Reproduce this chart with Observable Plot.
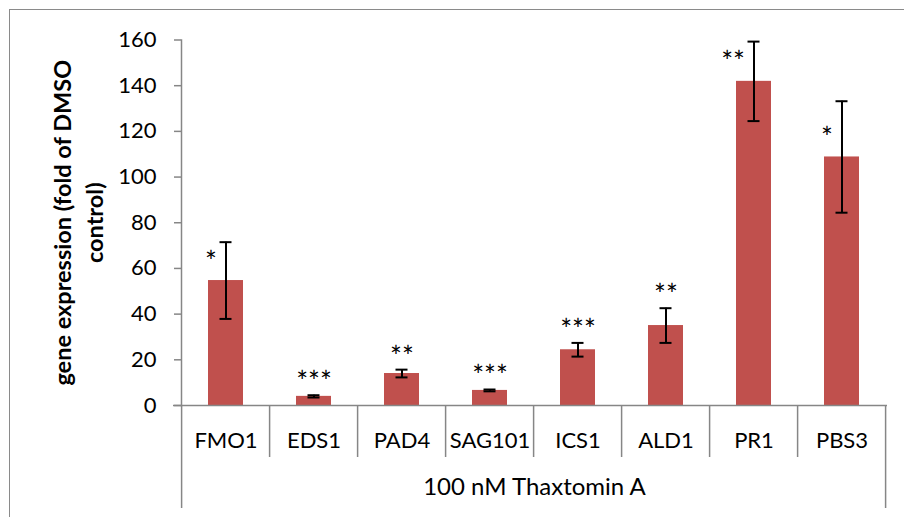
<!DOCTYPE html>
<html>
<head>
<meta charset="utf-8">
<script src="https://cdn.jsdelivr.net/npm/d3@7"></script>
<script src="https://cdn.jsdelivr.net/npm/@observablehq/plot@0.6"></script>
<style>
  html, body { margin: 0; padding: 0; background: #fff; }
  #wrap { position: relative; width: 904px; height: 517px; overflow: hidden; }
  #border { position: absolute; left: 9px; top: 9px; width: 1000px; height: 1000px;
            border-left: 1.5px solid #8a8a8a; border-top: 1.5px solid #8a8a8a; }
  #chart { position: absolute; left: 0; top: 0; }
</style>
</head>
<body>
<div id="wrap"><div id="border"></div><div id="chart"></div></div>
<script>
const genes = ["FMO1", "EDS1", "PAD4", "SAG101", "ICS1", "ALD1", "PR1", "PBS3"];
const means = [54.7, 4.0, 14.0, 6.6, 24.4, 35.0, 141.9, 108.8];
const errors = [16.8, 0.5, 1.7, 0.4, 3.0, 7.6, 17.4, 24.4];
const stars = ["*", "***", "**", "***", "***", "**", "**", "*"];
const yTicks = [0, 20, 40, 60, 80, 100, 120, 140, 160];
const groupLabel = "100 nM Thaxtomin A";
const yTitle = "gene expression (fold of DMSO\ncontrol)";

const data = genes.map((g, i) => ({gene: g, mean: means[i], err: errors[i], star: stars[i],
  lo: means[i] - errors[i], hi: means[i] + errors[i]}));

const W = 904, H = 517, mL = 181, mR = 17, mT = 39.5, mB = 112;
const axisColor = "#868686";
const font = "Lato, 'Open Sans', sans-serif";

// stars: above the error bar when it is short; beside it (left) when the bar is long
const ky = (H - mT - mB) / 160;
const small = data.filter(d => d.err * ky < 20);
const large = data.filter(d => d.err * ky >= 20);

const chart = Plot.plot({
  width: W, height: H,
  marginLeft: mL, marginRight: mR, marginTop: mT, marginBottom: mB,
  style: {fontFamily: font, fontSize: "22px", color: "black", background: "transparent"},
  x: {domain: genes, paddingInner: 0.6, paddingOuter: 0.3, label: null},
  y: {domain: [0, 160], label: null},
  marks: [
    Plot.barY(data, {x: "gene", y: "mean", fill: "#C0504D"}),
    Plot.ruleY([0], {stroke: axisColor, strokeWidth: 1.5, insetLeft: -8}),
    Plot.frame({anchor: "left", stroke: axisColor, strokeWidth: 1.5}),
    Plot.axisY({ticks: yTicks, tickSize: 7, tickPadding: 18, stroke: axisColor, fill: "black",
                fontSize: 22, label: null, strokeWidth: 1.5}),
    Plot.axisX({tickSize: 0, tickPadding: 27, fontSize: 22, label: null, fill: "black"}),
    Plot.ruleX(data, {x: "gene", y1: "lo", y2: "hi", stroke: "black", strokeWidth: 2}),
    Plot.tickY(data, {x: "gene", y: "lo", stroke: "black", strokeWidth: 2, insetLeft: 11.5, insetRight: 11.5}),
    Plot.tickY(data, {x: "gene", y: "hi", stroke: "black", strokeWidth: 2, insetLeft: 11.5, insetRight: 11.5}),
    Plot.text(small, {x: "gene", y: "hi", text: "star", dy: -12, fontSize: 28, fill: "black"}),
    Plot.text(large, {x: "gene", y: "mean", text: "star", dy: -18, dx: -9, textAnchor: "end", fontSize: 28, fill: "black"}),
    Plot.text([groupLabel], {frameAnchor: "bottom", dy: 89, fontSize: 24, fill: "black"}),
    Plot.text([yTitle], {frameAnchor: "left", rotate: -90, dx: -105, fontSize: 23.5, fontWeight: "bold",
                         textAnchor: "middle", lineHeight: 1.35, fill: "black"})
  ]
});
document.getElementById("chart").appendChild(chart);

// table-style category separators beneath the x axis, positioned from Plot's x scale
const xs = chart.scale("x");
const step = xs.step;
const y0 = chart.scale("y").apply(0);
const svg = d3.select(chart);
const g = svg.append("g").attr("stroke", axisColor).attr("stroke-width", 1.5);
genes.forEach((gname, i) => {
  const left = xs.apply(gname) - step * xs.paddingOuter;
  const isEdge = i === 0;
  g.append("line").attr("x1", left).attr("x2", left).attr("y1", y0).attr("y2", y0 + (isEdge ? 103 : 52));
});
const right = xs.apply(genes[genes.length - 1]) - step * xs.paddingOuter + step;
g.append("line").attr("x1", right).attr("x2", right).attr("y1", y0).attr("y2", y0 + 103);
</script>
</body>
</html>
